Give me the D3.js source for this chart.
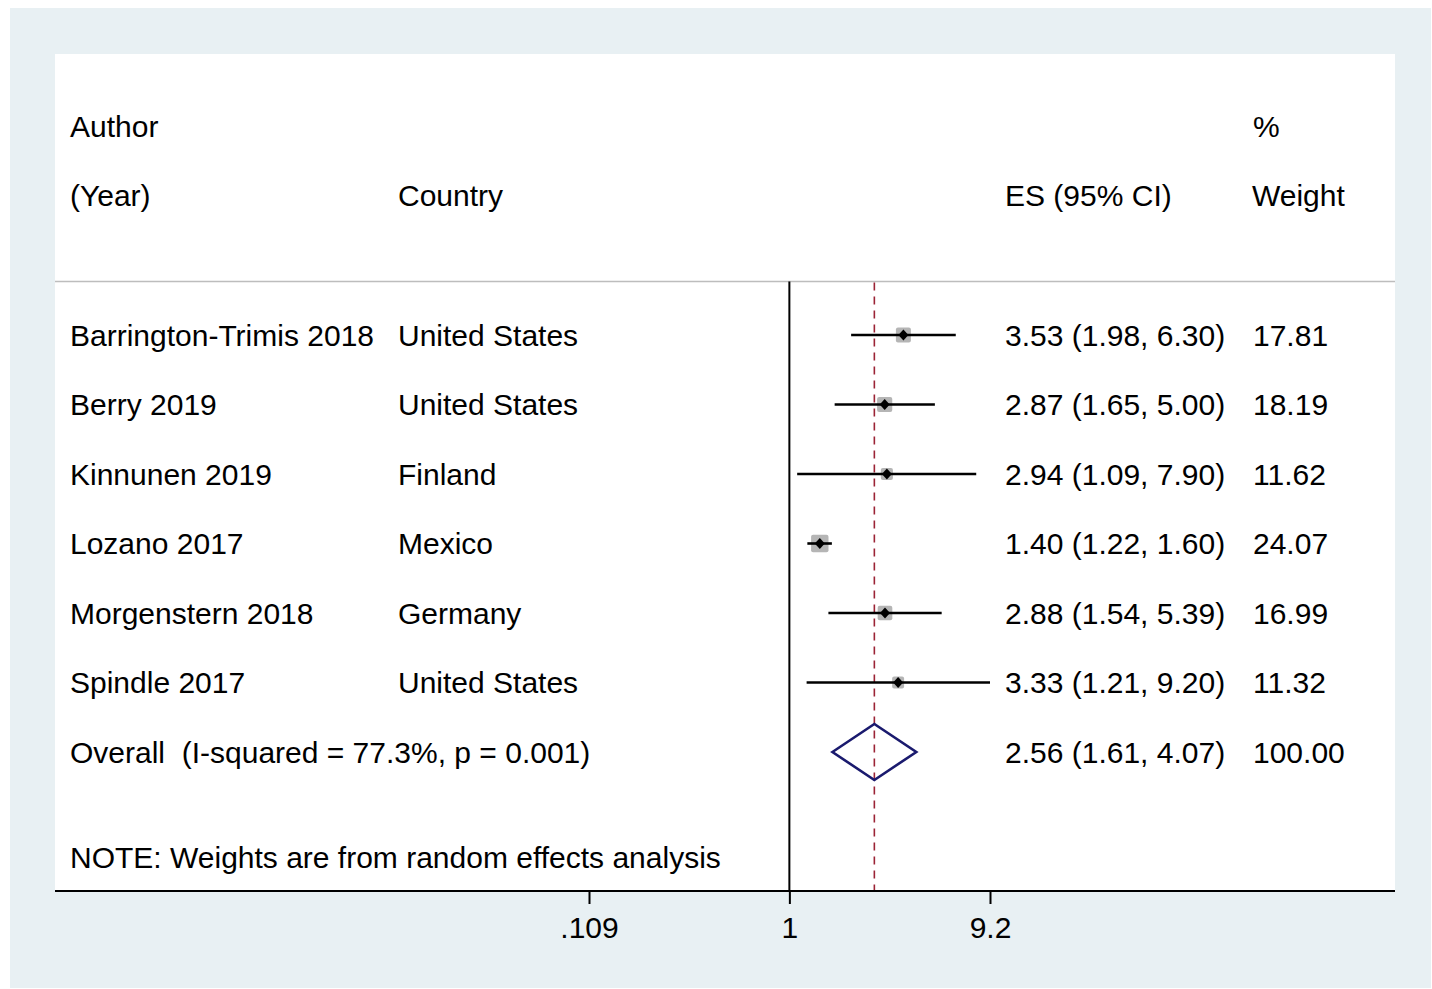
<!DOCTYPE html>
<html>
<head>
<meta charset="utf-8">
<script src="https://cdn.jsdelivr.net/npm/d3@7"></script>
<style>
  html, body { margin: 0; padding: 0; background: #ffffff; }
  svg { display: block; }
  text { font-family: "Liberation Sans", Arial, sans-serif; font-size: 30px; fill: #000; white-space: pre; }
</style>
</head>
<body>
<svg id="chart" width="1432" height="989"></svg>
<script>
// ---- Data ----
const authors = ["Barrington-Trimis 2018", "Berry 2019", "Kinnunen 2019", "Lozano 2017", "Morgenstern 2018", "Spindle 2017"];
const countries = ["United States", "United States", "Finland", "Mexico", "Germany", "United States"];
const es = [3.53, 2.87, 2.94, 1.40, 2.88, 3.33];
const ciLow = [1.98, 1.65, 1.09, 1.22, 1.54, 1.21];
const ciHigh = [6.30, 5.00, 7.90, 1.60, 5.39, 9.20];
const weights = [17.81, 18.19, 11.62, 24.07, 16.99, 11.32];
const overall = { label: "Overall  (I-squared = 77.3%, p = 0.001)", es: 2.56, lo: 1.61, hi: 4.07, weight: 100.00 };
const tickValues = [0.109, 1, 9.2];
const tickLabels = [".109", "1", "9.2"];
const note = "NOTE: Weights are from random effects analysis";

// ---- Layout ----
const svg = d3.select("#chart");
const panel = { left: 55, top: 54, right: 1395, bottom: 891 };

svg.append("rect").attr("x", 10).attr("y", 8).attr("width", 1421).attr("height", 980).attr("fill", "#e8f0f3");
svg.append("rect").attr("x", panel.left).attr("y", panel.top)
  .attr("width", panel.right - panel.left).attr("height", panel.bottom - panel.top).attr("fill", "#ffffff");

const x = d3.scaleLog().domain([0.109, 9.2]).range([589, 990]);
const y = d3.scaleLinear().domain([0, 6]).range([335, 752]);
const sepY = 281.5;
const baseOff = 10.5;

// header separator
svg.append("line").attr("x1", panel.left).attr("x2", panel.right).attr("y1", sepY).attr("y2", sepY)
  .attr("stroke", "#bdbdbd").attr("stroke-width", 1.5);

// headers
const colAuthor = 70, colCountry = 398, colES = 1005, colW = 1252;
function txt(xp, yc, s) {
  return svg.append("text").attr("x", xp).attr("y", yc + baseOff).attr("xml:space", "preserve").text(s);
}
txt(colAuthor, 126, "Author");
txt(colAuthor, 195, "(Year)");
txt(colCountry, 195, "Country");
txt(colES, 195, "ES (95% CI)");
txt(colW + 1, 126, "%");
txt(colW, 195, "Weight");

// null line
svg.append("line").attr("x1", x(1)).attr("x2", x(1)).attr("y1", sepY).attr("y2", panel.bottom)
  .attr("stroke", "#000").attr("stroke-width", 2);

// overall dashed line
svg.append("line").attr("x1", x(overall.es)).attr("x2", x(overall.es)).attr("y1", sepY + 1).attr("y2", panel.bottom)
  .attr("stroke", "#9b2335").attr("stroke-width", 1.6).attr("stroke-dasharray", "8,6");

// study rows
const rows = authors.map((a, i) => ({ a, c: countries[i], es: es[i], lo: ciLow[i], hi: ciHigh[i], w: weights[i], i }));
const g = svg.append("g");
rows.forEach(d => {
  const yc = y(d.i);
  const side = 3.55 * Math.sqrt(d.w);
  g.append("rect").attr("x", x(d.es) - side / 2).attr("y", yc - side / 2)
    .attr("width", side).attr("height", side).attr("rx", 2).attr("fill", "#b5b5b5");
  g.append("line").attr("x1", x(d.lo)).attr("x2", x(d.hi)).attr("y1", yc).attr("y2", yc)
    .attr("stroke", "#000").attr("stroke-width", 2.6);
  const cx = x(d.es);
  g.append("path").attr("d", `M${cx - 5},${yc} L${cx},${yc - 5.5} L${cx + 5},${yc} L${cx},${yc + 5.5} Z`).attr("fill", "#000");
  txt(colAuthor, yc, d.a);
  txt(colCountry, yc, d.c);
  txt(colES, yc, `${d.es.toFixed(2)} (${d.lo.toFixed(2)}, ${d.hi.toFixed(2)})`);
  txt(colW + 1, yc, d.w.toFixed(2));
});

// overall row
const yo = y(6);
const dh = 28;
svg.append("path")
  .attr("d", `M${x(overall.lo)},${yo} L${x(overall.es)},${yo - dh} L${x(overall.hi)},${yo} L${x(overall.es)},${yo + dh} Z`)
  .attr("fill", "none").attr("stroke", "#1a1a6e").attr("stroke-width", 2.6).attr("stroke-linejoin", "miter");
txt(colAuthor, yo, overall.label);
txt(colES, yo, `${overall.es.toFixed(2)} (${overall.lo.toFixed(2)}, ${overall.hi.toFixed(2)})`);
txt(colW + 1, yo, overall.weight.toFixed(2));

// note
txt(colAuthor, 857, note);

// axis
svg.append("line").attr("x1", panel.left).attr("x2", panel.right).attr("y1", panel.bottom).attr("y2", panel.bottom)
  .attr("stroke", "#000").attr("stroke-width", 2);
const axis = d3.axisBottom(x).tickValues(tickValues)
  .tickFormat((d, i) => tickLabels[i]).tickSize(13).tickPadding(13);
const ag = svg.append("g").attr("transform", `translate(0,${panel.bottom})`).call(axis);
ag.select(".domain").remove();
ag.selectAll(".tick line").attr("stroke", "#000").attr("stroke-width", 2);
ag.selectAll(".tick text").style("font-family", '"Liberation Sans", Arial, sans-serif')
  .style("font-size", "30px").attr("fill", "#000");
</script>
</body>
</html>
